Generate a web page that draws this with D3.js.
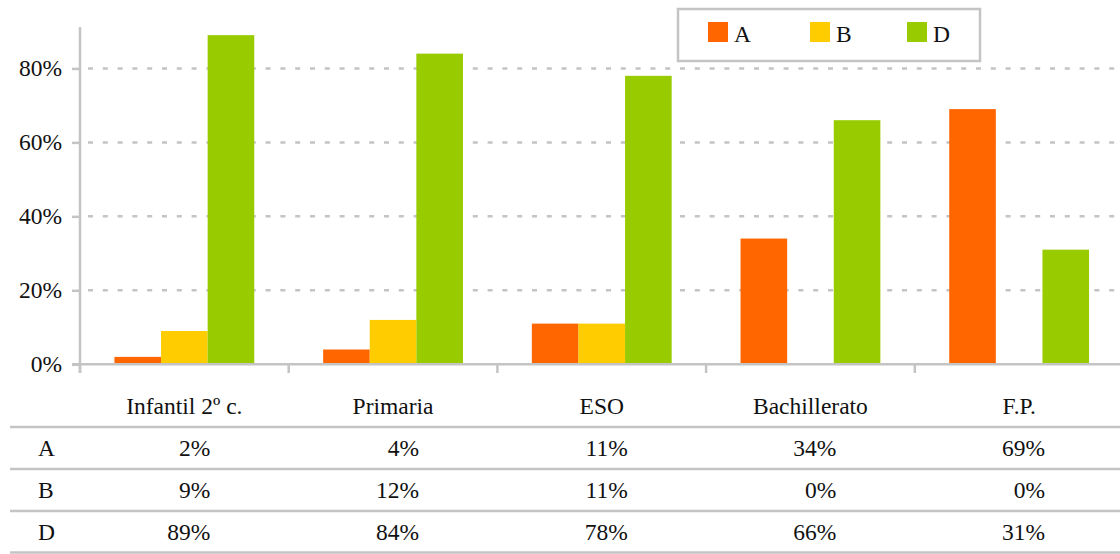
<!DOCTYPE html>
<html>
<head>
<meta charset="utf-8">
<script src="https://cdn.jsdelivr.net/npm/d3@7"></script>
<style>
  body { margin: 0; background: #fff; }
  text { font-family: "Liberation Serif", serif; font-size: 23.5px; fill: #111; }
</style>
</head>
<body>
<svg width="1120" height="554"></svg>
<script>
var width = 1120;
var height = 554;

// data
var categories = ["Infantil 2º c.", "Primaria", "ESO", "Bachillerato", "F.P."];
var seriesNames = ["A", "B", "D"];
var valuesA = [2, 4, 11, 34, 69];
var valuesB = [9, 12, 11, 0, 0];
var valuesD = [89, 84, 78, 66, 31];
var yTicks = [0, 20, 40, 60, 80];

var colors = {"A": "#ff6600", "B": "#ffcc00", "D": "#99cc00"};
var seriesValues = {"A": valuesA, "B": valuesB, "D": valuesD};
var grey = "#c4c4c4";

var svg = d3.select("svg");

// scales
var x = d3.scaleBand().domain(categories).range([80, 80 + 5 * 208.7]);
var bw = x.bandwidth();
var xSub = d3.scaleBand().domain(seriesNames).range([bw * 0.165, bw * 0.835]);
var y = d3.scaleLinear().domain([0, 91.2]).range([364.3, 27]);

// grid lines
svg.append("g").selectAll("line")
  .data(yTicks.filter(function (d) { return d > 0; }))
  .enter().append("line")
  .attr("x1", 80).attr("x2", width)
  .attr("y1", function (d) { return y(d); })
  .attr("y2", function (d) { return y(d); })
  .attr("stroke", grey)
  .attr("stroke-width", 2.5)
  .attr("stroke-dasharray", "5,9.8")
  .attr("stroke-dashoffset", -8);

// bars
var rows = [];
seriesNames.forEach(function (s) {
  categories.forEach(function (c, i) {
    rows.push({series: s, cat: c, value: seriesValues[s][i]});
  });
});

svg.append("g").selectAll("rect")
  .data(rows.filter(function (d) { return d.value > 0; }))
  .enter().append("rect")
  .attr("x", function (d) { return x(d.cat) + xSub(d.series); })
  .attr("width", xSub.bandwidth())
  .attr("y", function (d) { return y(d.value); })
  .attr("height", function (d) { return y(0) - y(d.value); })
  .attr("fill", function (d) { return colors[d.series]; });

// y axis
var axisLeft = d3.axisLeft(y).tickValues(yTicks).tickSize(8).tickPadding(10)
  .tickFormat(function (d) { return d + "%"; });
var gy = svg.append("g").attr("transform", "translate(80,0)").call(axisLeft);
gy.attr("font-family", null).attr("font-size", null);
gy.select(".domain").remove();
gy.selectAll(".tick line").attr("stroke", grey).attr("stroke-width", 2.5);
gy.selectAll(".tick text").attr("fill", "#111");

svg.append("line")
  .attr("x1", 80).attr("x2", 80).attr("y1", 27).attr("y2", 373)
  .attr("stroke", grey).attr("stroke-width", 2.5);

// x axis
svg.append("line")
  .attr("x1", 72).attr("x2", width).attr("y1", y(0)).attr("y2", y(0))
  .attr("stroke", grey).attr("stroke-width", 2.5);

svg.append("g").selectAll("line")
  .data(categories)
  .enter().append("line")
  .attr("x1", function (d) { return x(d); })
  .attr("x2", function (d) { return x(d); })
  .attr("y1", y(0)).attr("y2", 373)
  .attr("stroke", grey).attr("stroke-width", 2.5);

// legend
var legend = svg.append("g");
legend.append("rect")
  .attr("x", 678).attr("y", 9).attr("width", 302).attr("height", 52)
  .attr("fill", "#fff").attr("stroke", grey).attr("stroke-width", 2.5);
var legendPos = {"A": 708, "B": 810, "D": 907};
var items = legend.selectAll("g.item").data(seriesNames).enter().append("g").attr("class", "item");
items.append("rect")
  .attr("x", function (d) { return legendPos[d]; })
  .attr("y", 22).attr("width", 20).attr("height", 20)
  .attr("fill", function (d) { return colors[d]; });
items.append("text")
  .attr("x", function (d) { return legendPos[d] + 26; })
  .attr("y", 42)
  .text(function (d) { return d; });

// data table
var rowY = d3.scalePoint().domain(["head"].concat(seriesNames)).range([406, 532]);

svg.append("g").selectAll("text")
  .data(categories)
  .enter().append("text")
  .attr("x", function (d) { return x(d) + bw / 2; })
  .attr("y", rowY("head"))
  .attr("dy", "0.35em")
  .attr("text-anchor", "middle")
  .text(function (d) { return d; });

var lineYs = [427, 469, 511, 552.5];
svg.append("g").selectAll("line")
  .data(lineYs)
  .enter().append("line")
  .attr("x1", 10).attr("x2", width)
  .attr("y1", function (d) { return d; })
  .attr("y2", function (d) { return d; })
  .attr("stroke", grey).attr("stroke-width", 2.5);

var tRows = svg.append("g").selectAll("g")
  .data(seriesNames)
  .enter().append("g");

tRows.append("text")
  .attr("x", 38)
  .attr("y", function (d) { return rowY(d); })
  .attr("dy", "0.35em")
  .text(function (d) { return d; });

tRows.selectAll("text.val")
  .data(function (s) { return seriesValues[s].map(function (v, i) { return {s: s, v: v, c: categories[i]}; }); })
  .enter().append("text")
  .attr("class", "val")
  .attr("x", function (d) { return x(d.c) + bw / 2 + 26; })
  .attr("y", function (d) { return rowY(d.s); })
  .attr("dy", "0.35em")
  .attr("text-anchor", "end")
  .text(function (d) { return d.v + "%"; });
</script>
</body>
</html>
